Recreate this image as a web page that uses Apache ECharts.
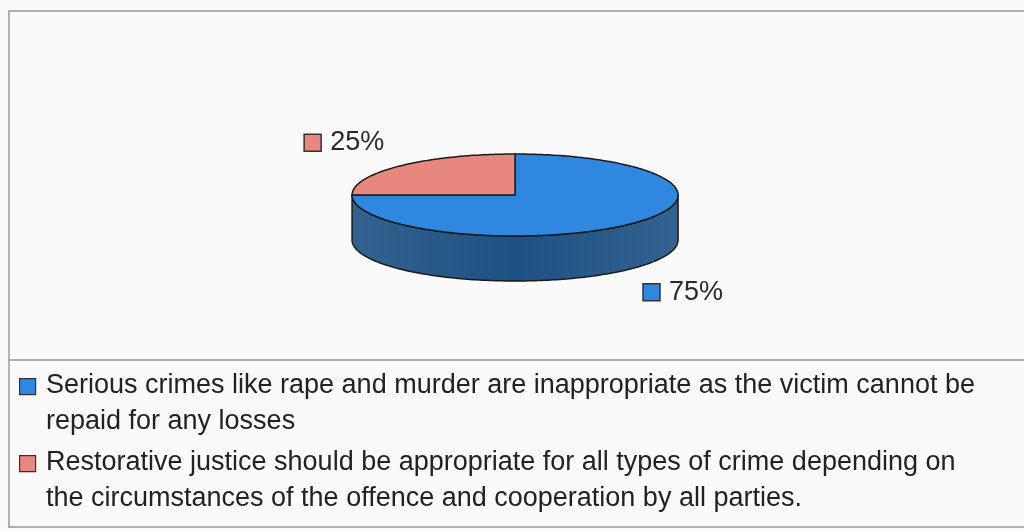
<!DOCTYPE html>
<html>
<head>
<meta charset="utf-8">
<script src="https://cdn.jsdelivr.net/npm/echarts@6/dist/echarts.min.js"></script>
<style>
html,body{margin:0;padding:0;background:#fafafa;}
#chart{width:1024px;height:529px;}
</style>
</head>
<body>
<div id="chart"></div>
<script>
// ---- data ----
const categories = [
  'Serious crimes like rape and murder are inappropriate as the victim cannot be repaid for any losses',
  'Restorative justice should be appropriate for all types of crime depending on the circumstances of the offence and cooperation by all parties.'
];
const values = [75, 25];
const valueLabels = ['75%', '25%'];

// ---- styles ----
const topColors = ['#2f87e0', '#e8877e'];
const sideColors = ['#1d5183', '#a85a54'];
const FONT = '"Liberation Sans", Arial, sans-serif';

const total = values.reduce((a, b) => a + b, 0);
const starts = [];
values.reduce((acc, v, i) => { starts[i] = acc; return acc + v; }, 0);

function arcPts(cx, cy, rx, ry, a0, a1, dy) {
  const pts = [];
  const n = Math.max(2, Math.ceil(Math.abs(a1 - a0) / 0.02));
  for (let k = 0; k <= n; k++) {
    const a = a0 + (a1 - a0) * k / n;
    pts.push([cx + rx * Math.cos(a), cy + ry * Math.sin(a) + (dy || 0)]);
  }
  return pts;
}

function renderItem(params, api) {
  const i = params.dataIndex;
  const W = api.getWidth();
  const cx = W * 0.503, cy = 195, rx = 163, ry = 41, depth = 45;
  const a0 = -Math.PI / 2 + 2 * Math.PI * starts[i] / total;
  const a1 = a0 + 2 * Math.PI * api.value(0) / total;
  const children = [];

  // front side wall: visible where sin(angle) >= 0
  [[0, Math.PI], [2 * Math.PI, 3 * Math.PI], [-2 * Math.PI, -Math.PI]].forEach(function (r) {
    const s = Math.max(a0, r[0]), e = Math.min(a1, r[1]);
    if (e - s > 1e-6) {
      const upper = arcPts(cx, cy, rx, ry, s, e, 0);
      const lower = arcPts(cx, cy, rx, ry, s, e, depth).reverse();
      children.push({
        type: 'polygon', z2: 1,
        shape: { points: upper.concat(lower) },
        style: {
          fill: new echarts.graphic.LinearGradient(0, 0, 1, 0, [
            { offset: 0, color: echarts.color.lift(sideColors[i], 0.1) },
            { offset: 0.5, color: sideColors[i] },
            { offset: 1, color: echarts.color.lift(sideColors[i], 0.1) }
          ]),
          stroke: '#1a1a1a', lineWidth: 1.5
        }
      });
    }
  });

  // top face
  children.push({
    type: 'polygon', z2: 10,
    shape: { points: [[cx, cy]].concat(arcPts(cx, cy, rx, ry, a0, a1, 0)) },
    style: { fill: topColors[i], stroke: '#1a1a1a', lineWidth: 1.5 }
  });

  // value label
  const m = (a0 + a1) / 2;
  const lx = cx + Math.cos(m) * rx * 1.47;
  const ly = cy + Math.sin(m) * ry * 1.8 + (Math.sin(m) > 0 ? depth : 0);
  const box = 17, gap = 9, tw = 57;
  const left = lx - (box + gap + tw) / 2;
  children.push({
    type: 'rect', z2: 20,
    shape: { x: left, y: ly - box / 2, width: box, height: box },
    style: { fill: topColors[i], stroke: '#333', lineWidth: 1.5 }
  });
  children.push({
    type: 'text', z2: 20,
    style: {
      x: left + box + gap, y: ly, text: valueLabels[i],
      fill: '#2a2a2a', font: '27px ' + FONT, verticalAlign: 'middle', align: 'left'
    }
  });

  return { type: 'group', children: children };
}

const legendGraphics = [];
const legendTops = [368, 445];
categories.forEach(function (name, i) {
  legendGraphics.push({
    type: 'rect', left: 19, top: legendTops[i] + 10,
    shape: { width: 16, height: 16 },
    style: { fill: topColors[i], stroke: '#333', lineWidth: 1.2 }
  });
  legendGraphics.push({
    type: 'text', left: 46, top: legendTops[i],
    style: {
      text: name, width: 947, overflow: 'break', lineHeight: 36,
      font: '27px ' + FONT, fill: '#222'
    }
  });
});

const chart = echarts.init(document.getElementById('chart'), null, { renderer: 'canvas' });
chart.setOption({
  backgroundColor: '#fafafa',
  animation: false,
  graphic: [
    { type: 'polyline', shape: { points: [[9, 528], [9, 11], [1030, 11]] }, style: { stroke: '#999', lineWidth: 1.5, fill: null } },
    { type: 'line', shape: { x1: 9, y1: 360, x2: 1030, y2: 360 }, style: { stroke: '#999', lineWidth: 1.5 } },
    { type: 'line', shape: { x1: 9, y1: 527, x2: 1030, y2: 527 }, style: { stroke: '#999', lineWidth: 1.5 } }
  ].concat(legendGraphics),
  series: [{
    type: 'custom',
    coordinateSystem: 'none',
    renderItem: renderItem,
    data: values.map(function (v, i) { return { value: [v], name: categories[i] }; })
  }]
});
</script>
</body>
</html>
